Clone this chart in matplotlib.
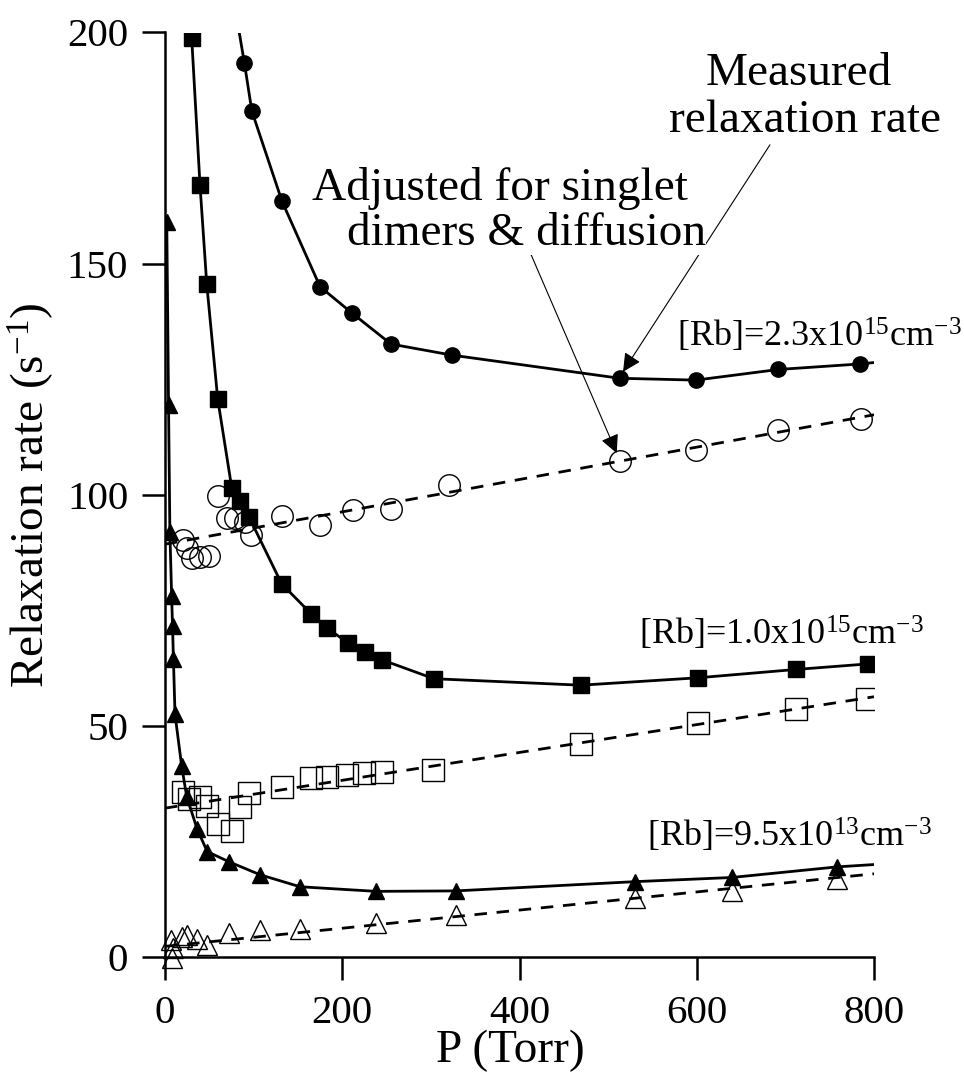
import matplotlib
matplotlib.use("Agg")
import matplotlib.pyplot as plt

plt.rcParams['font.family'] = ['Liberation Serif', 'DejaVu Serif']
plt.rcParams['mathtext.fontset'] = 'custom'
plt.rcParams['mathtext.rm'] = 'Liberation Serif'
plt.rcParams['mathtext.it'] = 'Liberation Serif:italic'
plt.rcParams['mathtext.bf'] = 'Liberation Serif:bold'

# ---- data: [Rb]=2.3e15 ----
hi_meas_P = [75, 89.5, 98, 132, 175, 211, 255, 324, 513, 599, 692, 784.5]
hi_meas_R = [210, 193.5, 183, 163.5, 145, 139.3, 132.6, 130.2, 125.2, 124.8, 127.1, 128.3]
hi_line_end_P = [800]
hi_line_end_R = [128.6]
hi_adj_P = [20.6, 24.5, 30.1, 39.5, 50, 60.1, 69.6, 79, 90.3, 96.7, 131.7, 174.9,
            211.8, 255, 320.5, 513.4, 598.8, 692, 785]
hi_adj_R = [90.2, 88.4, 86.3, 86.6, 86.8, 99.7, 94.9, 94.9, 94.0, 91.3, 95.4, 93.4,
            96.7, 96.9, 102.1, 107.3, 109.7, 114.0, 116.4]
hi_fit_P = [0, 800]
hi_fit_R = [89.3, 117.3]

# ---- data: [Rb]=1.0e15 ----
mid_meas_P = [30.1, 39.5, 47.1, 59.5, 75.3, 84.6, 94.8, 131.7, 164.7, 182.5, 206.2,
              225.7, 244.6, 303.5, 469.4, 601.1, 711.6, 792.9]
mid_meas_R = [198.9, 167.0, 145.6, 120.7, 101.5, 98.6, 95.2, 80.7, 74.3, 71.2, 68.0,
              66.0, 64.3, 60.2, 58.8, 60.4, 62.2, 63.4]
mid_adj_P = [20.7, 27.4, 39.5, 47.7, 59.5, 75.3, 84.6, 94.8, 131.7, 164.4, 182.5,
             205.7, 224.9, 244.5, 302.7, 469.4, 601.1, 711.6, 792.5]
mid_adj_R = [35.8, 34.2, 34.7, 32.7, 28.7, 27.3, 32.4, 35.4, 36.8, 38.7, 39.0,
             39.4, 39.9, 40.1, 40.5, 46.1, 50.6, 53.7, 55.8]
mid_fit_P = [0, 800]
mid_fit_R = [32.2, 56.3]

# ---- data: [Rb]=9.5e13 ----
lo_meas_P = [2, 4, 5.5, 7.5, 8.5, 9.5, 11.3, 18.8, 24.5, 36.4, 47.7, 72.2, 107.2,
             152.3, 238.1, 328.4, 530.4, 639.4, 758.6]
lo_meas_R = [159, 119.5, 92, 78, 71.5, 64.5, 52.5, 41.3, 34.7, 27.6, 22.8, 20.6, 17.8,
             15.2, 14.2, 14.3, 16.3, 17.2, 19.5]
lo_line_end_P = [800]
lo_line_end_R = [20.0]
lo_adj_P = [6.4, 7.6, 9.4, 18.8, 25.2, 35.8, 47.7, 72.2, 107.2, 152.3, 238.1, 328.4,
            530.4, 639.4, 758.6]
lo_adj_R = [3.7, -0.3, 1.9, 4.4, 4.8, 4.0, 2.6, 5.1, 5.8, 6.0, 7.4, 9.1, 12.8, 14.3, 16.8]
lo_fit_P = [0, 800]
lo_fit_R = [2.3, 18.0]

x_ticks = [0, 200, 400, 600, 800]
y_ticks = [0, 50, 100, 150, 200]

fig = plt.figure(figsize=(9.64, 10.78), dpi=100)
ax = fig.add_axes([165/964, 1 - 957/1078, (874-165)/964, (957-32.5)/1078])

LW = 2.0
DASH = (0, (4.5, 3.5))

# solid measured curves
ax.plot(hi_meas_P + hi_line_end_P, hi_meas_R + hi_line_end_R, '-', color='k', lw=LW, zorder=2)
ax.plot(mid_meas_P, mid_meas_R, '-', color='k', lw=LW, zorder=2)
ax.plot(lo_meas_P + lo_line_end_P, lo_meas_R + lo_line_end_R, '-', color='k', lw=LW, zorder=2)
# dashed fits
ax.plot(hi_fit_P, hi_fit_R, color='k', lw=LW, ls=DASH, zorder=2)
ax.plot(mid_fit_P, mid_fit_R, color='k', lw=LW, ls=DASH, zorder=2)
ax.plot(lo_fit_P, lo_fit_R, color='k', lw=LW, ls=DASH, zorder=2)

# markers
ax.plot(hi_meas_P, hi_meas_R, 'o', ms=11, color='k', ls='none', zorder=3)
ax.plot(hi_adj_P, hi_adj_R, 'o', ms=15.5, mfc='none', mec='k', mew=1.0, ls='none', zorder=3)
ax.plot(mid_meas_P, mid_meas_R, 's', ms=11.5, color='k', ls='none', zorder=3)
ax.plot(mid_adj_P, mid_adj_R, 's', ms=15.5, mfc='none', mec='k', mew=1.0, ls='none', zorder=3)
ax.plot(lo_meas_P, lo_meas_R, '^', ms=11.5, color='k', ls='none', zorder=3)
ax.plot(lo_adj_P, lo_adj_R, '^', ms=15, mfc='none', mec='k', mew=1.0, ls='none',
        zorder=3, clip_on=False)

ax.set_xlim(0, 800)
ax.set_ylim(0, 200)
ax.set_xticks(x_ticks)
ax.set_yticks(y_ticks)
for s in ['top', 'right']:
    ax.spines[s].set_visible(False)
for s in ['left', 'bottom']:
    ax.spines[s].set_linewidth(1.8)
ax.tick_params(direction='out', length=16.5, width=1.8, labelsize=29.5)
ax.tick_params(axis='x', pad=11)
ax.tick_params(axis='y', pad=10)

ax.set_xlabel('P (Torr)', fontsize=34, labelpad=-2)
ax.xaxis.label.set_x(0.487)
ax.set_ylabel(r'Relaxation rate (s$^{-1}$)', fontsize=34, labelpad=8)

# annotations
ax.text(715.4, 188.6, 'Measured', fontsize=34, ha='center', va='baseline')
ax.text(722.7, 178.5, 'relaxation rate', fontsize=34, ha='center', va='baseline')
ax.annotate('', xy=(516.8, 126.6), xytext=(682.6, 175.7),
            arrowprops=dict(arrowstyle='-|>', lw=0.8, color='k', mutation_scale=28,
                            shrinkA=0, shrinkB=0), zorder=1)
ax.text(165.9, 163.8, 'Adjusted for singlet', fontsize=34, ha='left', va='baseline')
ax.text(205.4, 154.0, 'dimers & diffusion', fontsize=34, ha='left', va='baseline',
        bbox=dict(fc='white', ec='none', pad=0), zorder=1.5)
ax.annotate('', xy=(509.7, 109.0), xytext=(411.8, 152.5),
            arrowprops=dict(arrowstyle='-|>', lw=0.8, color='k', mutation_scale=28,
                            shrinkA=0, shrinkB=0), zorder=1)

ax.text(577.7, 132.0, r'[Rb]=2.3x10$^{15}$cm$^{-3}$', fontsize=26, ha='left', va='baseline')
ax.text(534.8, 67.5, r'[Rb]=1.0x10$^{15}$cm$^{-3}$', fontsize=26, ha='left', va='baseline')
ax.text(543.5, 23.9, r'[Rb]=9.5x10$^{13}$cm$^{-3}$', fontsize=26, ha='left', va='baseline')

fig.savefig('out.png', dpi=100)
